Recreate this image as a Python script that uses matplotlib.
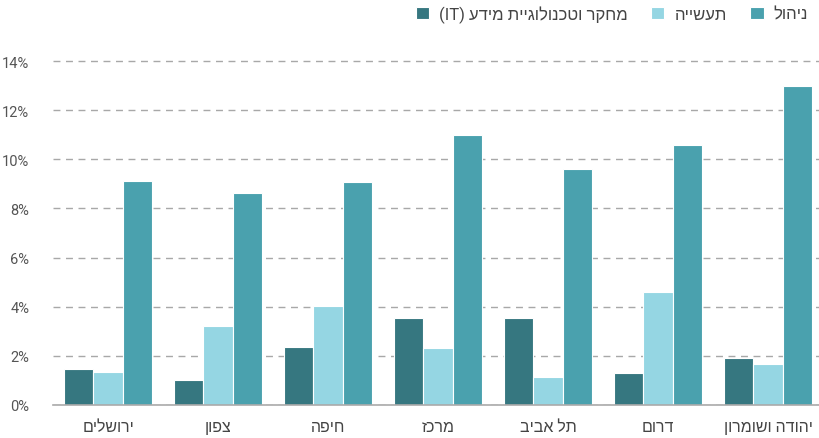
import numpy as np
import matplotlib
matplotlib.use("Agg")
import matplotlib.pyplot as plt

plt.rcParams['font.family'] = ['Roboto', 'Liberation Sans', 'DejaVu Sans']

# data (percent)
regions = ["ירושלים", "צפון", "חיפה", "מרכז", "תל אביב", "דרום", "יהודה ושומרון"]
it_research = [1.47, 1.02, 2.38, 3.54, 3.55, 1.29, 1.91]
industry = [1.33, 3.20, 4.01, 2.30, 1.16, 4.61, 1.67]
management = [9.10, 8.64, 9.06, 10.99, 9.59, 10.60, 12.97]

series_names = ["מחקר וטכנולוגיית מידע", "תעשייה", "ניהול"]
colors = ["#367780", "#95d6e3", "#4aa1ae"]


def rtl(s):
    # matplotlib has no bidi support, so flip hebrew text by hand
    return s[::-1]


labels = ["(IT) " + rtl(series_names[0]), rtl(series_names[1]), rtl(series_names[2])]

fig = plt.figure(figsize=(8.19, 4.39), dpi=100)
ax = fig.add_axes([53 / 819, 33 / 439, 1 - 53 / 819, 356.25 / 439])

x = np.arange(len(regions))
w = 0.8 / 3
for i, vals in enumerate([it_research, industry, management]):
    ax.bar(x + (i - 1) * w, vals, width=w, color=colors[i], edgecolor="white",
           linewidth=0.8, label=labels[i], zorder=3)

ax.set_xlim(-0.5, 6.4636)
ax.set_ylim(0, 14.5)
ax.set_yticks(np.arange(0, 15, 2))
ax.set_yticklabels([f"{v}%" for v in range(0, 15, 2)])
ax.set_xticks(x)
ax.set_xticklabels([rtl(r) for r in regions])

ax.grid(axis="y", color="#a8a8a8", linestyle=(0, (5, 4)), linewidth=1, zorder=0)
for s in ["top", "right", "left"]:
    ax.spines[s].set_visible(False)
ax.spines["bottom"].set_color("#aaaaaa")
ax.spines["bottom"].set_linewidth(1.2)
ax.spines["bottom"].set_zorder(4)

ax.tick_params(axis="y", length=0, pad=17, labelsize=10.5, labelcolor="#555555")
ax.tick_params(axis="x", length=0, pad=10, labelsize=11.5, labelcolor="#444444")

leg = fig.legend(loc="center right", bbox_to_anchor=(808 / 819, 1 - 15 / 439), ncol=3,
                 frameon=False, fontsize=12, handlelength=0.8, handleheight=0.8,
                 handletextpad=0.6, columnspacing=1.4, borderaxespad=0, borderpad=0)
for t in leg.get_texts():
    t.set_color("#444444")

fig.savefig("out.png", dpi=100)
